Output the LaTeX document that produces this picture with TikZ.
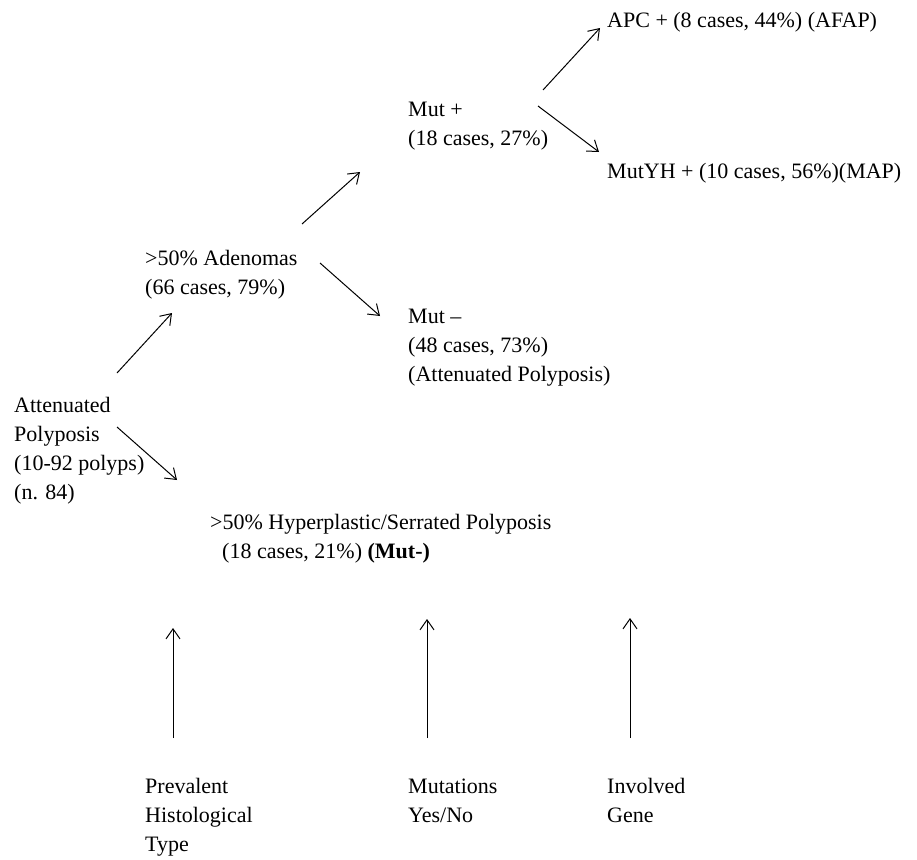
\documentclass[tikz,border=0pt]{standalone}
\usepackage{fontspec}
\setmainfont{Liberation Serif}
\usetikzlibrary{arrows.meta}
\newcommand{\stk}[1]{\begin{tabular}[t]{@{}l@{}}#1\end{tabular}}
\begin{document}
\begin{tikzpicture}[x=1pt,y=-1pt,
  lbl/.style={anchor=base west,inner sep=0pt,font=\fontsize{22}{29}\selectfont},
  conn/.style={line width=1pt,-{Straight Barb[length=10pt,width=14pt,line width=1pt]}}]
\useasboundingbox (0,0) rectangle (917,859);
% text nodes
\node[lbl] (att)   at (14,412)  {\stk{Attenuated\\Polyposis\\(10-92 polyps)\\(n. 84)}};
\node[lbl] (aden)  at (145,265) {\stk{>50\% Adenomas\\(66 cases, 79\%)}};
\node[lbl] (mutp)  at (408,116) {\stk{Mut +\\(18 cases, 27\%)}};
\node[lbl] (mutm)  at (408,323) {\stk{Mut --\\(48 cases, 73\%)\\(Attenuated Polyposis)}};
\node[lbl] (apc)   at (607,28)  {APC + (8 cases, 44\%) (AFAP)};
\node[lbl] (mutyh) at (607,178) {MutYH + (10 cases, 56\%)(MAP)};
\node[lbl] (hyp)   at (210,529) {\stk{>50\% Hyperplastic/Serrated Polyposis\\\hspace*{12pt}(18 cases, 21\%) \textbf{(Mut-)}}};
\node[lbl] (prev)  at (145,793) {\stk{Prevalent\\Histological\\Type}};
\node[lbl] (mutl)  at (408,793) {\stk{Mutations\\Yes/No}};
\node[lbl] (inv)   at (607,793) {\stk{Involved\\Gene}};
% arrow end points
\coordinate (a1s) at (117,373); \coordinate (a1e) at (172,313);
\coordinate (a2s) at (117,427); \coordinate (a2e) at (177,480);
\coordinate (a3s) at (302,224); \coordinate (a3e) at (360,172);
\coordinate (a4s) at (320,263); \coordinate (a4e) at (380,316);
\coordinate (a5s) at (543,90);  \coordinate (a5e) at (600,28);
\coordinate (a6s) at (538,106); \coordinate (a6e) at (599,152);
\coordinate (u1s) at (173,738); \coordinate (u1e) at (173,628);
\coordinate (u2s) at (427,738); \coordinate (u2e) at (427,619);
\coordinate (u3s) at (630,738); \coordinate (u3e) at (630,618);
% connectors
\draw[conn] (a1s) -- (a1e);
\draw[conn] (a2s) -- (a2e);
\draw[conn] (a3s) -- (a3e);
\draw[conn] (a4s) -- (a4e);
\draw[conn] (a5s) -- (a5e);
\draw[conn] (a6s) -- (a6e);
\draw[conn] (u1s) -- (u1e);
\draw[conn] (u2s) -- (u2e);
\draw[conn] (u3s) -- (u3e);
\end{tikzpicture}
\end{document}
